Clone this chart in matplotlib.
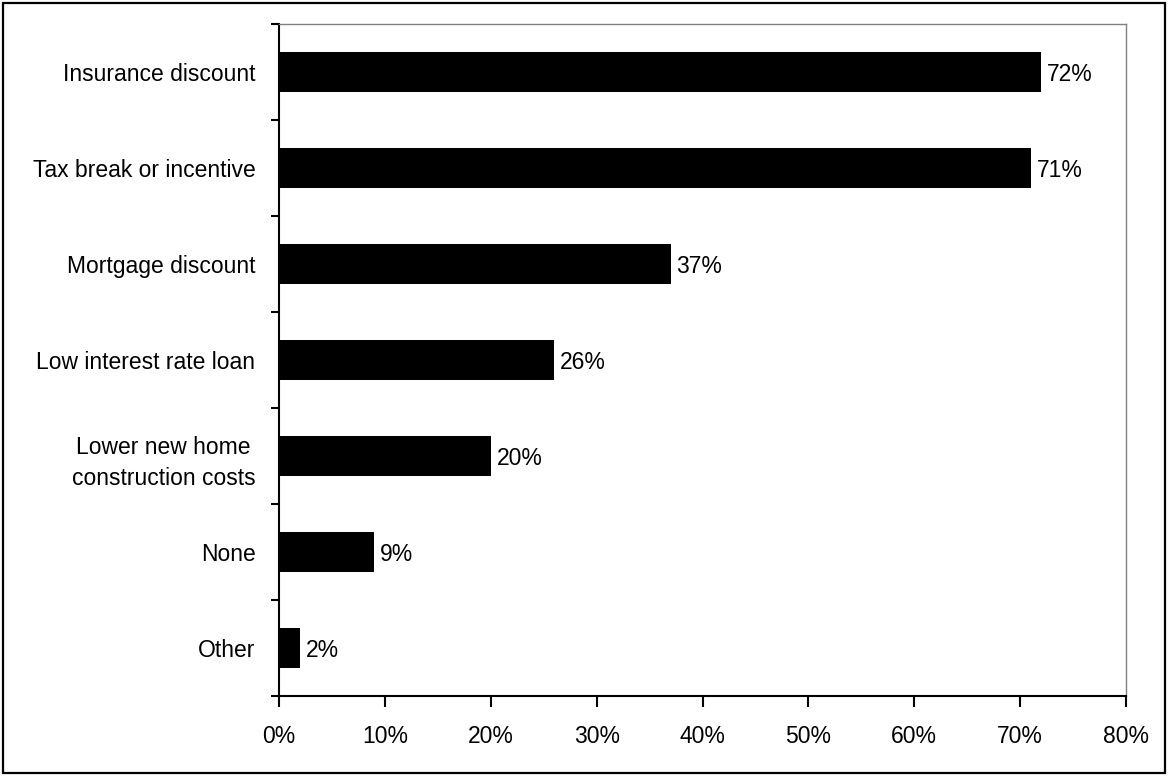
import matplotlib
matplotlib.use("Agg")
import matplotlib.pyplot as plt
from matplotlib.patches import Rectangle
from matplotlib.ticker import FixedLocator, FuncFormatter

plt.rcParams['font.family'] = ['Liberation Sans', 'DejaVu Sans']

# Datos: incentivos y porcentaje de respuestas
categorias = ["Insurance discount", "Tax break or incentive", "Mortgage discount",
              "Low interest rate loan", "Lower new home\nconstruction costs",
              "None", "Other"]
porcentajes = [72, 71, 37, 26, 20, 9, 2]
etiquetas_x = [0, 10, 20, 30, 40, 50, 60, 70, 80]

fig = plt.figure(figsize=(11.68, 7.76), dpi=100)
ax = fig.add_axes([279 / 1168, 1 - 696 / 776, (1126 - 279) / 1168, (696 - 24) / 776])

posiciones = list(range(len(categorias)))
ax.barh(posiciones, porcentajes, height=0.42, color='black')

# Etiquetas de valor al final de cada barra
for y, v in zip(posiciones, porcentajes):
    ax.text(v + 0.55, y, f"{v}%", va='center_baseline', ha='left', fontsize=16.5)

ax.set_xlim(0, 80)
ax.set_ylim(len(categorias) - 0.5, -0.5)

ax.set_xticks(etiquetas_x)
ax.xaxis.set_major_formatter(FuncFormatter(lambda v, p: f"{v:.0f}%"))
ax.tick_params(axis='x', direction='out', length=8, width=1.5, labelsize=16.5, pad=13)

ax.set_yticks(posiciones)
ax.set_yticklabels(categorias, multialignment='center', linespacing=1.45)
ax.yaxis.set_minor_locator(FixedLocator([p - 0.5 for p in posiciones] + [len(categorias) - 0.5]))
ax.tick_params(axis='y', which='major', length=0, labelsize=16.5, pad=17)
ax.tick_params(axis='y', which='minor', direction='out', length=6, width=1.5)

for lado in ['left', 'bottom']:
    ax.spines[lado].set_color('black')
    ax.spines[lado].set_linewidth(1.5)
for lado in ['top', 'right']:
    ax.spines[lado].set_color('#808080')
    ax.spines[lado].set_linewidth(1)

# Marco exterior de la figura
fig.patches.append(Rectangle((3 / 1168, 3 / 776), 1 - 6 / 1168, 1 - 6 / 776,
                             transform=fig.transFigure, fill=False,
                             edgecolor='black', linewidth=1.6))

fig.savefig("out.png", dpi=100)
